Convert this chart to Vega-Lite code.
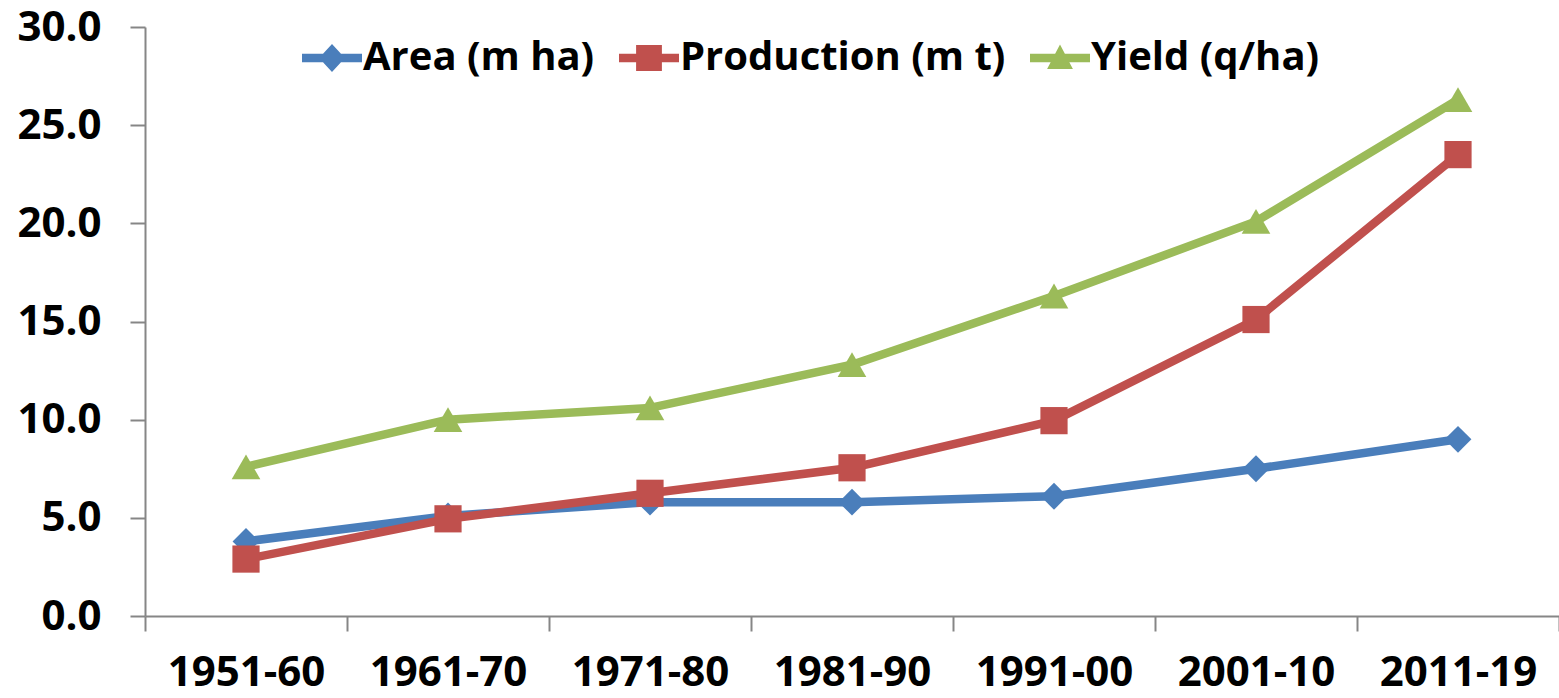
{
  "$schema": "https://vega.github.io/schema/vega-lite/v6.json",
  "autosize": "none",
  "padding": {"left": 145, "top": 27, "right": 0, "bottom": 82},
  "width": 1414,
  "height": 589,
  "background": "white",
  "config": {
    "view": {"stroke": null},
    "font": "Open Sans"
  },
  "data": {
    "values": [
      {"period": "1951-60", "series": "Area (m ha)", "value": 3.8},
      {"period": "1961-70", "series": "Area (m ha)", "value": 5.1},
      {"period": "1971-80", "series": "Area (m ha)", "value": 5.8},
      {"period": "1981-90", "series": "Area (m ha)", "value": 5.8},
      {"period": "1991-00", "series": "Area (m ha)", "value": 6.1},
      {"period": "2001-10", "series": "Area (m ha)", "value": 7.5},
      {"period": "2011-19", "series": "Area (m ha)", "value": 9.0},
      {"period": "1951-60", "series": "Production (m t)", "value": 2.9},
      {"period": "1961-70", "series": "Production (m t)", "value": 4.95},
      {"period": "1971-80", "series": "Production (m t)", "value": 6.25},
      {"period": "1981-90", "series": "Production (m t)", "value": 7.55},
      {"period": "1991-00", "series": "Production (m t)", "value": 9.95},
      {"period": "2001-10", "series": "Production (m t)", "value": 15.1},
      {"period": "2011-19", "series": "Production (m t)", "value": 23.5},
      {"period": "1951-60", "series": "Yield (q/ha)", "value": 7.6},
      {"period": "1961-70", "series": "Yield (q/ha)", "value": 10.0},
      {"period": "1971-80", "series": "Yield (q/ha)", "value": 10.6},
      {"period": "1981-90", "series": "Yield (q/ha)", "value": 12.8},
      {"period": "1991-00", "series": "Yield (q/ha)", "value": 16.3},
      {"period": "2001-10", "series": "Yield (q/ha)", "value": 20.1},
      {"period": "2011-19", "series": "Yield (q/ha)", "value": 26.3}
    ]
  },
  "encoding": {
    "x": {
      "field": "period",
      "type": "ordinal",
      "sort": null,
      "title": null,
      "scale": {"paddingInner": 0, "paddingOuter": 0},
      "axis": {
        "labelAngle": 0,
        "labelFont": "Open Sans",
        "labelFontSize": 42,
        "labelFontWeight": "bold",
        "labelColor": "black",
        "labelPadding": 21,
        "tickSize": 15,
        "tickBand": "extent",
        "tickColor": "#868686",
        "tickWidth": 2,
        "domainColor": "#868686",
        "domainWidth": 2,
        "grid": false
      }
    },
    "y": {
      "field": "value",
      "type": "quantitative",
      "title": null,
      "scale": {"domain": [0, 30], "nice": false},
      "axis": {
        "values": [0, 5, 10, 15, 20, 25, 30],
        "format": ".1f",
        "labelFont": "Open Sans",
        "labelFontSize": 42,
        "labelFontWeight": "bold",
        "labelColor": "black",
        "labelPadding": 29,
        "tickSize": 15,
        "tickColor": "#868686",
        "tickWidth": 2,
        "domainColor": "#868686",
        "domainWidth": 2,
        "grid": false
      }
    },
    "color": {
      "field": "series",
      "type": "nominal",
      "scale": {
        "domain": ["Area (m ha)", "Production (m t)", "Yield (q/ha)"],
        "range": ["#4A7EBB", "#C0504D", "#9BBB59"]
      },
      "legend": {
        "orient": "none",
        "legendX": 157,
        "legendY": 1,
        "direction": "horizontal",
        "title": null,
        "padding": 0,
        "symbolSize": 3600,
        "symbolStrokeWidth": 0,
        "labelFont": "Open Sans",
        "labelFontSize": 40,
        "labelFontWeight": "bold",
        "labelColor": "black",
        "labelOffset": 1,
        "columnPadding": 24,
        "labelLimit": 600,
        "encode": {
          "symbols": {
            "update": {
              "shape": {"signal": "datum.value === 'Area (m ha)' ? 'M-1,-0.14L1,-0.14L1,0.14L-1,0.14ZM0,-0.47L0.43,0L0,0.47L-0.43,0Z' : datum.value === 'Production (m t)' ? 'M-1,-0.14L1,-0.14L1,0.14L-1,0.14ZM-0.43,-0.43L0.43,-0.43L0.43,0.43L-0.43,0.43Z' : 'M-1,-0.14L1,-0.14L1,0.14L-1,0.14ZM0,-0.45L0.43,0.37L-0.43,0.37Z'"},
              "fill": {"scale": "color", "field": "value"},
              "strokeWidth": {"value": 0},
              "opacity": {"value": 1}
            }
          }
        }
      }
    }
  },
  "layer": [
    {
      "mark": {"type": "line", "strokeWidth": 8.5, "strokeCap": "round", "strokeJoin": "round"},
      "encoding": {"detail": {"field": "series"}}
    },
    {
      "transform": [{"filter": "datum.series === 'Area (m ha)'"}],
      "mark": {"type": "point", "filled": true, "opacity": 1, "size": 720, "shape": "diamond"}
    },
    {
      "transform": [{"filter": "datum.series === 'Production (m t)'"}],
      "mark": {"type": "point", "filled": true, "opacity": 1, "size": 740, "shape": "square"}
    },
    {
      "transform": [{"filter": "datum.series === 'Yield (q/ha)'"}],
      "mark": {"type": "point", "filled": true, "opacity": 1, "size": 820, "shape": "triangle-up"}
    }
  ]
}
